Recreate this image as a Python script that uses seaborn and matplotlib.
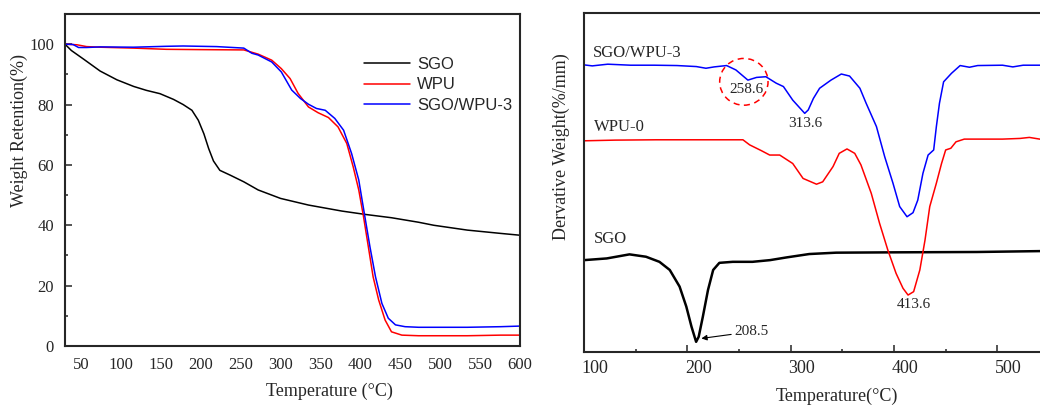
import matplotlib
matplotlib.use("Agg")
import matplotlib.pyplot as plt
from matplotlib.patches import Ellipse
from matplotlib.lines import Line2D
from matplotlib.transforms import ScaledTranslation
import seaborn as sns

# ---------------- TGA (weight retention) ----------------
tga_t_sgo = [30, 38, 53, 74, 95, 116, 132, 149, 166, 178, 189, 197, 204, 210, 216,
             224, 237, 254, 272, 300, 335, 377, 406, 439, 473, 492, 534, 576, 600]
tga_sgo = [100, 97.9, 95.1, 91.1, 88.2, 86.0, 84.7, 83.6, 81.7, 80.0, 78.1, 74.8, 70.3,
           65.4, 61.3, 58.2, 56.6, 54.4, 51.7, 48.9, 46.7, 44.7, 43.6, 42.5, 41.0, 40.0,
           38.4, 37.3, 36.7]

tga_t_wpu = [30, 45, 57, 74, 116, 157, 199, 254, 272, 289, 301, 312, 322, 335, 347, 360,
             372, 383, 391, 398, 404, 410, 416, 423, 431, 439, 452, 473, 534, 576, 600]
tga_wpu = [100, 99.8, 99.2, 99.0, 98.7, 98.3, 98.2, 98.1, 96.7, 94.7, 91.9, 88.6, 83.7,
           79.2, 77.3, 75.7, 72.6, 67.1, 59.4, 51.7, 42.8, 32.9, 22.9, 15.2, 8.6, 4.7,
           3.6, 3.4, 3.4, 3.6, 3.6]

tga_t_comp = [30, 40, 47, 57, 74, 116, 157, 178, 220, 254, 264, 272, 289, 301, 314, 325,
              335, 345, 356, 368, 379, 389, 398, 405, 412, 419, 427, 435, 444, 456, 473,
              534, 576, 600]
tga_comp = [100, 99.9, 98.9, 98.9, 99.1, 99.0, 99.3, 99.4, 99.2, 98.7, 97.0, 96.4, 94.1,
            90.8, 84.8, 82.0, 80.1, 78.7, 78.1, 75.4, 71.5, 63.8, 55.0, 43.9, 32.9, 22.9,
            14.1, 9.2, 7.0, 6.4, 6.2, 6.2, 6.4, 6.6]

tga_labels = ["SGO", "WPU", "SGO/WPU-3"]

# ---------------- DTG (derivative weight, offset curves) ----------------
dtg_t_comp = [100, 108, 123, 145, 168, 190, 208.7, 218, 226, 238, 247, 258.6, 267, 276,
              286, 293, 302, 313.6, 317, 322, 328, 339, 349, 357, 367, 373, 383, 391,
              399, 405.5, 412.6, 418.4, 423, 428, 433, 438.4, 441, 444, 448, 455.6, 464,
              473, 481, 505, 515, 525, 550]
dtg_comp = [84.7, 84.4, 84.9, 84.6, 84.6, 84.5, 84.2, 83.7, 84.1, 84.5, 83.2, 80.2, 81.0,
            81.2, 79.3, 78.3, 74.3, 70.4, 71.4, 74.8, 77.8, 80.2, 82.0, 81.4, 77.8, 73.4,
            66.5, 57.6, 49.8, 42.9, 39.9, 41.1, 44.8, 52.7, 58.1, 59.6, 66.5, 73.4, 79.7,
            82.2, 84.5, 84.0, 84.5, 84.6, 84.1, 84.6, 84.6]

dtg_t_wpu = [100, 130, 170, 210, 253.8, 260.3, 271.6, 279.7, 289.4, 302, 312, 325, 331,
             341, 347, 354.5, 362, 368, 378, 386, 394, 402, 408.7, 413.6, 419, 425, 430,
             434.6, 441, 446, 450, 455, 460, 468, 480, 505, 522, 531, 541, 550]
dtg_wpu = [62.3, 62.5, 62.6, 62.6, 62.6, 61.1, 59.4, 58.1, 58.1, 55.6, 51.2, 49.5, 50.2,
           54.7, 58.6, 59.9, 58.6, 55.2, 46.8, 38.0, 30.1, 23.2, 18.8, 16.8, 17.8, 24.2,
           33.0, 42.9, 49.8, 55.6, 59.6, 60.1, 62.0, 62.8, 62.8, 62.8, 63.0, 63.3, 62.8,
           62.3]

dtg_t_sgo = [100, 122, 144, 160, 173, 183, 192.5, 199, 204, 208.5, 211, 215, 220, 225,
             231, 244, 263, 280, 296, 318, 344, 400, 480, 550]
dtg_sgo = [27.1, 27.6, 28.8, 28.1, 26.6, 24.2, 19.3, 13.4, 7.5, 3.0, 4.5, 10.4, 18.3,
           24.2, 26.3, 26.6, 26.6, 27.1, 27.9, 28.9, 29.3, 29.4, 29.5, 29.8]

peak_labels = ["258.6", "313.6", "413.6", "208.5"]

BLACK, RED, BLUE = "#000000", "#ff0000", "#0000ff"
SERIF = "Liberation Serif"
SANS = "Liberation Sans"

sns.set_style("ticks")
plt.rcParams["font.family"] = [SERIF, "DejaVu Serif"]

fig = plt.figure(figsize=(10.4, 4.07), dpi=100)
W, H = 1040.0, 407.0

# ---------------- left: TGA ----------------
ax1 = fig.add_axes([65 / W, 61 / H, 455 / W, 332 / H])
sns.lineplot(x=tga_t_sgo, y=tga_sgo, ax=ax1, color=BLACK, lw=1.1)
sns.lineplot(x=tga_t_wpu, y=tga_wpu, ax=ax1, color=RED, lw=1.1)
sns.lineplot(x=tga_t_comp, y=tga_comp, ax=ax1, color=BLUE, lw=1.1)
ax1.set_xlim(30, 600)
ax1.set_ylim(0, 110)
ax1.set_xticks(range(50, 601, 50))
ax1.set_yticks(range(0, 101, 20))
ax1.set_yticks(range(10, 100, 20), minor=True)
ax1.tick_params(axis="x", length=0, pad=8, labelsize=12)
ax1.tick_params(axis="y", which="major", direction="in", length=5, width=1.1,
                pad=8, labelsize=12)
ax1.tick_params(axis="y", which="minor", direction="in", length=2.5, width=1.1)
for s in ax1.spines.values():
    s.set_linewidth(1.5)
    s.set_visible(True)
ax1.set_xlabel("Temperature (°C)", fontsize=13)
ax1.set_ylabel("Weight Retention(%)", fontsize=13)
ax1.xaxis.set_label_coords(0.582, -0.111)
ax1.yaxis.set_label_coords(-0.081, 0.65)
ax1.xaxis.label.set_va("top")

handles = [Line2D([], [], color=c, lw=1.1) for c in (BLACK, RED, BLUE)]
ax1.legend(handles, tga_labels, loc="upper left", bbox_to_anchor=(0.657, 0.871),
           frameon=False, prop={"family": SANS, "size": 12}, handlelength=2.76,
           handletextpad=0.42, labelspacing=0.34, borderpad=0, borderaxespad=0)

# ---------------- right: DTG ----------------
ax2 = fig.add_axes([584 / W, 55 / H, 465 / W, 339 / H])
sns.lineplot(x=dtg_t_sgo, y=dtg_sgo, ax=ax2, color=BLACK, lw=1.8)
sns.lineplot(x=dtg_t_wpu, y=dtg_wpu, ax=ax2, color=RED, lw=1.1)
sns.lineplot(x=dtg_t_comp, y=dtg_comp, ax=ax2, color=BLUE, lw=1.1)
ax2.set_xlim(100, 550)
ax2.set_ylim(0, 100)
ax2.set_xticks(range(100, 551, 100))
ax2.set_xticks(range(150, 551, 100), minor=True)
ax2.set_yticks([])
ax2.tick_params(axis="x", which="major", direction="in", length=5, width=1.1,
                pad=6, labelsize=13)
ax2.tick_params(axis="x", which="minor", direction="in", length=2.5, width=1.1)
for s in ax2.spines.values():
    s.set_linewidth(1.5)
    s.set_visible(True)
ax2.set_xlabel("Temperature(°C)", fontsize=13)
ax2.set_ylabel("Dervative Weight(%/mm)", fontsize=13)
ax2.xaxis.set_label_coords(0.543, -0.106)
ax2.yaxis.set_label_coords(-0.030, 0.606)

# curve names
ax2.text(108.3, 88.2, "SGO/WPU-3", fontsize=12, ha="left", va="center")
ax2.text(110, 66.4, "WPU-0", fontsize=12, ha="left", va="center")
ax2.text(110, 33.3, "SGO", fontsize=12, ha="left", va="center")

# peak temperatures
ax2.text(257.4, 77.5, peak_labels[0], fontsize=11, ha="center", va="center")
ax2.text(314.2, 67.4, peak_labels[1], fontsize=11, ha="center", va="center")
ax2.text(419.4, 13.9, peak_labels[2], fontsize=11, ha="center", va="center")
ax2.annotate(peak_labels[3], xy=(213.6, 4.0), xytext=(245.6, 6.0),
             fontsize=11, ha="left", va="center",
             arrowprops=dict(arrowstyle="-|>", color=BLACK, lw=0.8,
                             mutation_scale=8, shrinkA=0, shrinkB=0))
ax2.add_patch(Ellipse((254.7, 79.7), 46.8, 13.8, fill=False, ec=RED, lw=1.1,
                      ls=(0, (4, 3))))

# tick labels of the DTG axis sit slightly right of their ticks
shift = ScaledTranslation(0.11, 0, fig.dpi_scale_trans)
for lab in ax2.get_xticklabels():
    lab.set_transform(lab.get_transform() + shift)

fig.savefig("out.png", dpi=100)
